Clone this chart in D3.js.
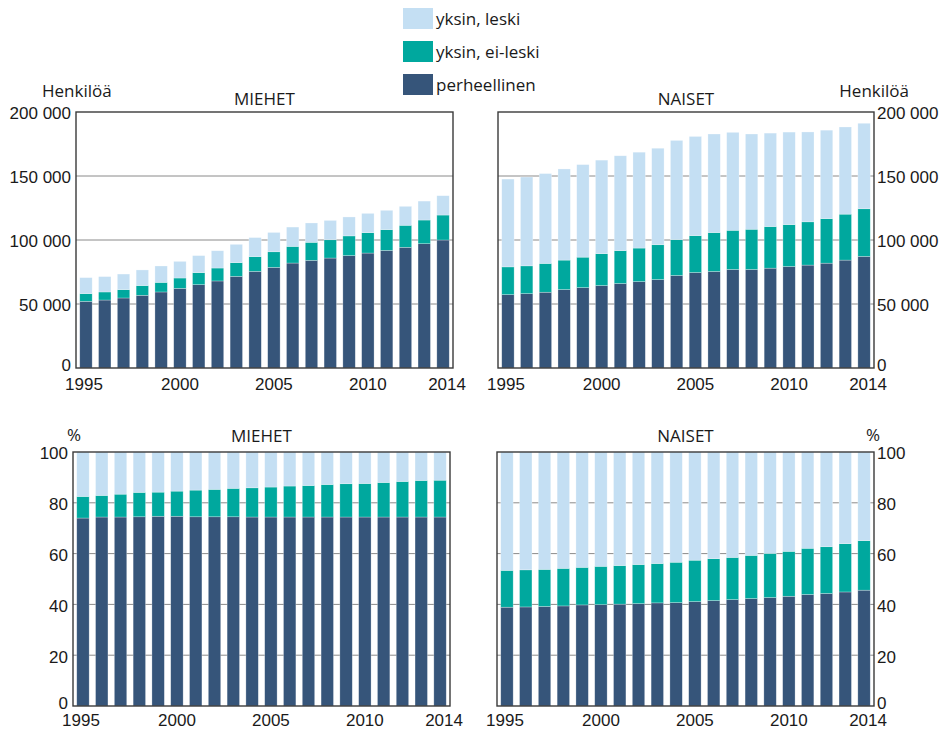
<!DOCTYPE html>
<html>
<head>
<meta charset="utf-8">
<script src="https://cdn.jsdelivr.net/npm/d3@7"></script>
<style>
  body { margin: 0; background: #fff; }
  svg { font-family: "Open Sans", sans-serif; font-size: 17px; }
</style>
</head>
<body>
<div id="chart"></div>
<script>
const years = [1995, 1996, 1997, 1998, 1999, 2000, 2001, 2002, 2003, 2004,
  2005, 2006, 2007, 2008, 2009, 2010, 2011, 2012, 2013, 2014];
const yearTicks = [1995, 2000, 2005, 2010, 2014];
const seriesNames = ['perheellinen', 'yksin, ei-leski', 'yksin, leski'];
const countTicks = [0, 50000, 100000, 150000, 200000];
const pctTicks = [0, 20, 40, 60, 80, 100];

// miehet, henkilöä
const menFamily = [52100, 53100, 54700, 56800, 59400, 62200, 65100, 68000, 71600, 75500,
  78600, 82000, 84100, 85900, 87800, 89800, 91900, 94300, 97100, 100000];
const menAloneNotWidowed = [6000, 6300, 6500, 7600, 7500, 8100, 9400, 10100, 10700, 11500,
  12200, 13000, 14100, 14300, 15400, 15900, 16200, 17200, 18500, 19500];
const menAloneWidowed = [12500, 12000, 12200, 12200, 12800, 13000, 13300, 13500, 14300, 14900,
  15100, 15100, 15100, 15100, 14800, 15100, 15100, 14800, 14800, 15100];

// naiset, henkilöä
const womenFamily = [57300, 58100, 59200, 61300, 62800, 64400, 66000, 67500, 69100, 72300,
  74600, 75400, 77000, 77000, 78000, 79300, 80400, 81900, 84300, 87200];
const womenAloneNotWidowed = [21700, 21700, 22500, 23000, 23800, 24900, 25700, 26200, 27200, 28000,
  28800, 30400, 30600, 31400, 32500, 32700, 33800, 34800, 35900, 37200];
const womenAloneWidowed = [68600, 69400, 70200, 71200, 72300, 73100, 74100, 74900, 75400, 77500,
  77500, 77000, 76500, 74400, 73000, 72300, 70200, 69100, 68100, 66800];

// miehet, %
const menFamilyPct = [74.0, 74.4, 74.4, 74.5, 74.7, 74.7, 74.5, 74.5, 74.5, 74.4,
  74.4, 74.4, 74.4, 74.4, 74.4, 74.4, 74.4, 74.4, 74.4, 74.4];
const menAloneNotWidowedPct = [8.5, 8.5, 9.0, 9.6, 9.5, 9.9, 10.5, 10.8, 11.2, 11.5,
  11.8, 12.2, 12.4, 12.8, 13.1, 13.2, 13.6, 14.0, 14.4, 14.5];
const menAloneWidowedPct = [17.5, 17.1, 16.6, 15.9, 15.8, 15.4, 15.0, 14.7, 14.3, 14.1,
  13.8, 13.4, 13.2, 12.8, 12.5, 12.4, 12.0, 11.6, 11.2, 11.1];

// naiset, %
const womenFamilyPct = [38.9, 39.0, 39.2, 39.4, 39.8, 39.9, 40.1, 40.3, 40.6, 40.7,
  41.1, 41.5, 41.9, 42.3, 42.7, 43.2, 43.9, 44.3, 44.9, 45.6];
const womenAloneNotWidowedPct = [14.5, 14.6, 14.6, 14.8, 14.8, 15.1, 15.2, 15.4, 15.5, 15.9,
  16.3, 16.5, 16.6, 17.0, 17.4, 17.7, 18.2, 18.4, 19.0, 19.5];
const womenAloneWidowedPct = [46.6, 46.4, 46.2, 45.8, 45.4, 45.0, 44.7, 44.3, 43.9, 43.4,
  42.6, 42.0, 41.5, 40.7, 39.9, 39.1, 37.9, 37.3, 36.1, 34.9];

const colors = ['#36557a', '#00a89e', '#c4dff3'];
const textColor = '#1a1a1a';

const svg = d3.select('#chart').append('svg')
  .attr('width', 946)
  .attr('height', 731);

const fmtCount = v => d3.format(',')(v).replace(/,/g, ' ');

function drawPanel(cfg) {
  const x = d3.scaleBand()
    .domain(years)
    .range([cfg.left, cfg.right])
    .paddingInner(0.34)
    .paddingOuter(0.2);
  const y = d3.scaleLinear()
    .domain([0, cfg.max])
    .range([cfg.bottom, cfg.top]);

  const rows = years.map((yr, i) => ({
    year: yr,
    [seriesNames[0]]: cfg.series[0][i],
    [seriesNames[1]]: cfg.series[1][i],
    [seriesNames[2]]: cfg.series[2][i],
  }));
  const stacked = d3.stack().keys(seriesNames)(rows);

  const g = svg.append('g');

  // gridlines behind bars
  g.append('g')
    .selectAll('line')
    .data(cfg.ticks.slice(1, -1))
    .join('line')
    .attr('x1', cfg.left)
    .attr('x2', cfg.right)
    .attr('y1', d => y(d))
    .attr('y2', d => y(d))
    .attr('stroke', '#8a8a8a')
    .attr('stroke-width', 1);

  g.append('g')
    .selectAll('g')
    .data(stacked)
    .join('g')
    .attr('fill', (d, i) => colors[i])
    .selectAll('rect')
    .data(d => d)
    .join('rect')
    .attr('x', d => x(d.data.year))
    .attr('width', x.bandwidth())
    .attr('y', d => y(d[1]))
    .attr('height', d => y(d[0]) - y(d[1]))
    .attr('stroke', '#fff')
    .attr('stroke-opacity', 0.45)
    .attr('stroke-width', 0.6);

  // frame
  g.append('rect')
    .attr('x', cfg.left)
    .attr('y', cfg.top)
    .attr('width', cfg.right - cfg.left)
    .attr('height', cfg.bottom - cfg.top)
    .attr('fill', 'none')
    .attr('stroke', '#3a3a3a')
    .attr('stroke-width', 1.4);

  // y axis
  const yAxis = (cfg.side === 'left' ? d3.axisLeft(y) : d3.axisRight(y))
    .tickValues(cfg.ticks)
    .tickSize(0)
    .tickPadding(cfg.side === 'left' ? 5 : 3)
    .tickFormat(cfg.format);
  const ya = g.append('g')
    .attr('transform', `translate(${cfg.side === 'left' ? cfg.left : cfg.right},0)`)
    .call(yAxis);
  ya.select('.domain').remove();
  ya.selectAll('text')
    .attr('fill', textColor)
    .attr('font-size', 17)
    .attr('dy', d => (d === 0 ? '0.32em' : '0.32em'))
    .attr('y', d => (d === 0 ? -3 : 1.5));

  // x axis
  const xa = g.append('g')
    .attr('transform', `translate(0,${cfg.bottom})`)
    .call(d3.axisBottom(x).tickValues(yearTicks).tickSize(0).tickPadding(cfg.xPad));
  xa.select('.domain').remove();
  xa.selectAll('text')
    .attr('fill', textColor)
    .attr('font-size', 17)
    .attr('dx', d => (d === 1995 ? -2 : d === 2014 ? 4 : 0));

  // title
  g.append('text')
    .attr('x', (cfg.left + cfg.right) / 2)
    .attr('y', cfg.titleY)
    .attr('text-anchor', 'middle')
    .attr('fill', textColor)
    .text(cfg.title);

  // unit
  g.append('text')
    .attr('x', cfg.unitX)
    .attr('y', cfg.unitY)
    .attr('text-anchor', cfg.side === 'left' ? 'start' : 'end')
    .attr('fill', textColor)
    .text(cfg.unit);
}

drawPanel({
  left: 76, right: 453, top: 112, bottom: 368, max: 200000,
  ticks: countTicks, format: fmtCount, side: 'left', xPad: 10,
  series: [menFamily, menAloneNotWidowed, menAloneWidowed],
  title: 'MIEHET', titleY: 105, unit: 'Henkilöä', unitX: 42, unitY: 97,
});
drawPanel({
  left: 498, right: 874, top: 112, bottom: 368, max: 200000,
  ticks: countTicks, format: fmtCount, side: 'right', xPad: 10,
  series: [womenFamily, womenAloneNotWidowed, womenAloneWidowed],
  title: 'NAISET', titleY: 105, unit: 'Henkilöä', unitX: 909, unitY: 97,
});
drawPanel({
  left: 73, right: 450, top: 452, bottom: 706, max: 100,
  ticks: pctTicks, format: d3.format('d'), side: 'left', xPad: 8,
  series: [menFamilyPct, menAloneNotWidowedPct, menAloneWidowedPct],
  title: 'MIEHET', titleY: 442, unit: '%', unitX: 67, unitY: 441,
});
drawPanel({
  left: 497, right: 874, top: 452, bottom: 706, max: 100,
  ticks: pctTicks, format: d3.format('d'), side: 'right', xPad: 8,
  series: [womenFamilyPct, womenAloneNotWidowedPct, womenAloneWidowedPct],
  title: 'NAISET', titleY: 442, unit: '%', unitX: 880, unitY: 441,
});

// legend
const legendItems = [
  { name: 'yksin, leski', color: colors[2] },
  { name: 'yksin, ei-leski', color: colors[1] },
  { name: 'perheellinen', color: colors[0] },
];
const legend = svg.append('g').attr('transform', 'translate(403,8)');
const li = legend.selectAll('g')
  .data(legendItems)
  .join('g')
  .attr('transform', (d, i) => `translate(0,${i * 33})`);
li.append('rect')
  .attr('width', 30)
  .attr('height', 21)
  .attr('fill', d => d.color);
li.append('text')
  .attr('x', 33)
  .attr('y', 17)
  .attr('fill', textColor)
  .text(d => d.name);
</script>
</body>
</html>
